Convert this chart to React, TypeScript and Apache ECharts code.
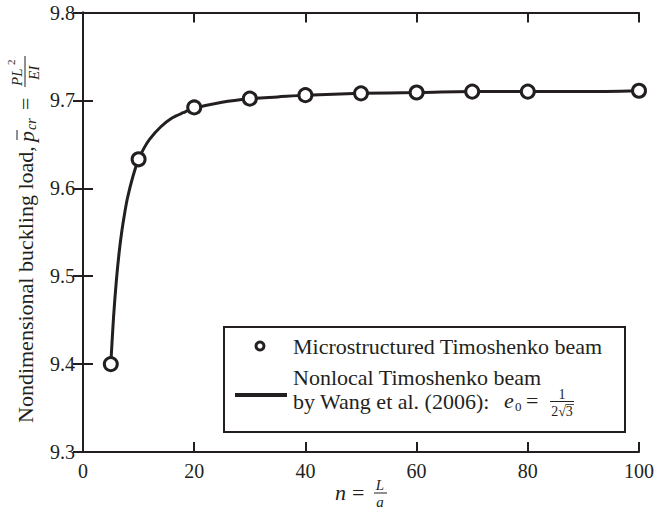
import React, { useEffect, useRef } from "react";
import * as echarts from "echarts";

const markerN = [5, 10, 20, 30, 40, 50, 60, 70, 80, 100];
const markerP = [9.4, 9.633, 9.692, 9.702, 9.706, 9.708, 9.709, 9.71, 9.71, 9.711];

const curveN = [5, 5.5, 6, 6.5, 7, 7.5, 8, 9, 10, 11, 12, 14, 16, 18, 20, 25, 30, 35, 40, 50, 60, 70, 80, 90, 100];
const curveP = [9.4, 9.454, 9.495, 9.527, 9.552, 9.572, 9.589, 9.614, 9.633, 9.646, 9.656, 9.67, 9.68, 9.686, 9.691, 9.698, 9.702, 9.704, 9.706, 9.708, 9.709, 9.71, 9.71, 9.71, 9.711];

const xTicks = [0, 20, 40, 60, 80, 100];
const yTicks = [9.3, 9.4, 9.5, 9.6, 9.7, 9.8];

const INK = "#231f20";
const FONT = "Liberation Serif";

export default function App() {
  const ref = useRef<HTMLDivElement>(null);
  useEffect(() => {
    if (!ref.current) return;
    const chart = echarts.init(ref.current, undefined, { renderer: "svg" });
    const axisLine = { show: true, lineStyle: { color: INK, width: 2 } };
    const axisTick = { show: true, inside: true, length: 10, lineStyle: { color: INK, width: 2 } };
    const xBase = {
      type: "value" as const,
      min: xTicks[0],
      max: xTicks[xTicks.length - 1],
      interval: 20,
      axisLine,
      axisTick,
      splitLine: { show: false },
    };
    const yBase = {
      type: "value" as const,
      min: yTicks[0],
      max: yTicks[yTicks.length - 1],
      interval: 0.1,
      axisLine,
      axisTick,
      splitLine: { show: false },
    };
    const t = (text: string, x: number, y: number, size: number, extra: any = {}) => ({
      type: "text",
      x,
      y,
      style: {
        text,
        fill: INK,
        fontFamily: FONT,
        fontSize: size,
        fontStyle: extra.italic ? "italic" : "normal",
        align: extra.align || "left",
        verticalAlign: "middle",
      },
    });
    const ln = (x1: number, y1: number, x2: number, y2: number, w: number) => ({
      type: "line",
      shape: { x1, y1, x2, y2 },
      style: { stroke: INK, lineWidth: w },
    });

    chart.setOption({
      animation: false,
      grid: { left: 83, right: 16, top: 12.5, bottom: 57, containLabel: false },
      xAxis: [
        {
          ...xBase,
          position: "bottom",
          axisLabel: { show: true, color: INK, fontFamily: FONT, fontSize: 20, margin: 9 },
        },
        { ...xBase, position: "top", axisLabel: { show: false } },
      ],
      yAxis: [
        {
          ...yBase,
          position: "left",
          axisLabel: {
            show: true,
            color: INK,
            fontFamily: FONT,
            fontSize: 20,
            margin: 8,
            formatter: (v: number) => v.toFixed(1),
          },
        },
        { ...yBase, position: "right", axisLabel: { show: false } },
      ],
      series: [
        {
          type: "line",
          name: "Nonlocal Timoshenko beam",
          data: curveN.map((n, i) => [n, curveP[i]]),
          smooth: 0.3,
          showSymbol: false,
          lineStyle: { color: INK, width: 3 },
          z: 2,
        },
        {
          type: "scatter",
          name: "Microstructured Timoshenko beam",
          data: markerN.map((n, i) => [n, markerP[i]]),
          symbol: "circle",
          symbolSize: 13,
          itemStyle: { color: "#ffffff", borderColor: INK, borderWidth: 3, opacity: 1 },
          z: 3,
        },
      ],
      graphic: [
        // y-axis title (rotated)
        {
          type: "group",
          x: 25,
          y: 423,
          rotation: Math.PI / 2,
          children: [
            t("Nondimensional buckling load,", 0, 0, 22),
            t("p", 281, 1, 22, { italic: true }),
            ln(283, -8, 293, -8, 1),
            t("cr", 293, 6, 14, { italic: true }),
            t("=", 313, 0, 22),
            t("PL", 337, -8, 15, { italic: true }),
            t("2", 358, -14, 11),
            ln(336, 0, 367, 0, 1),
            t("EI", 343, 9, 15, { italic: true }),
          ],
        },
        // x-axis title
        t("n", 335, 492, 22, { italic: true }),
        t("=", 352, 492, 22),
        t("L", 380, 485, 15, { italic: true, align: "center" }),
        ln(374, 493, 387, 493, 1),
        t("a", 380, 502, 15, { italic: true, align: "center" }),
        // legend
        {
          type: "rect",
          shape: { x: 224, y: 327, width: 401, height: 105 },
          style: { fill: "#ffffff", stroke: INK, lineWidth: 2 },
          z: 10,
        },
        {
          type: "circle",
          shape: { cx: 260, cy: 346, r: 4 },
          style: { fill: "#ffffff", stroke: INK, lineWidth: 3 },
          z: 11,
        },
        { ...t("Microstructured Timoshenko beam", 293, 346, 22), z: 11 },
        { ...ln(235, 395, 287, 395, 4), z: 11 },
        { ...t("Nonlocal Timoshenko beam", 293, 377, 22), z: 11 },
        { ...t("by Wang et al. (2006):", 293, 401, 22), z: 11 },
        { ...t("e", 504, 400, 22, { italic: true }), z: 11 },
        { ...t("0", 515, 406, 13), z: 11 },
        { ...t("=", 526, 400, 22), z: 11 },
        { ...t("1", 562, 394, 14, { align: "center" }), z: 11 },
        { ...ln(550, 401.5, 574, 401.5, 1), z: 11 },
        { ...t("2√3", 562, 411, 14, { align: "center" }), z: 11 },
        { ...ln(565.5, 404.5, 574, 404.5, 0.8), z: 11 },
      ],
    });
    return () => chart.dispose();
  }, []);
  return <div ref={ref} style={{ width: 657, height: 509, position: "absolute", left: 0, top: 0 }} />;
}
